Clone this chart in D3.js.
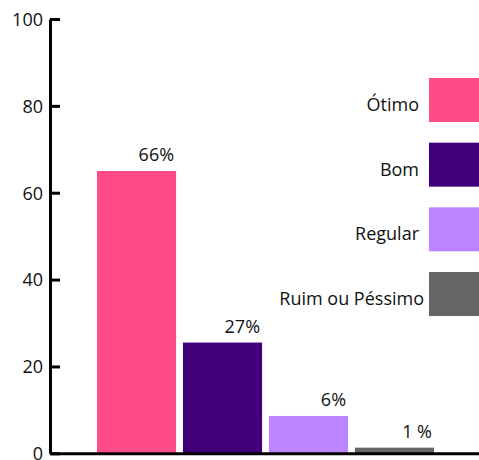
<!DOCTYPE html>
<html><head><meta charset="utf-8">
<script src="https://cdn.jsdelivr.net/npm/d3@7"></script>
<style>
html,body{margin:0;padding:0;background:#fff;}
svg{display:block;font-family:"Open Sans","Noto Sans",sans-serif;}
</style></head>
<body>
<svg id="chart" width="479" height="460"></svg>
<script>
const categories = ["Ótimo", "Bom", "Regular", "Ruim ou Péssimo"];
const values = [65, 25.5, 8.6, 1.3];
const valueLabels = ["66%", "27%", "6%", "1 %"];
const legendLabels = ["Ótimo", "Bom", "Regular", "Ruim ou Péssimo"];
const colors = ["#FF4C86", "#41007A", "#BC85FF", "#666666"];
const yTicks = [0, 20, 40, 60, 80, 100];

const svg = d3.select("#chart");
const y = d3.scaleLinear().domain([0, 100]).range([453.3, 19]);
const x = d3.scaleBand().domain(categories).range([97, 434]).paddingInner(0.08).paddingOuter(0);
const FS = 18;

// bars
svg.selectAll("rect.bar").data(values).enter().append("rect")
  .attr("class", "bar")
  .attr("x", (d, i) => x(categories[i]))
  .attr("width", x.bandwidth())
  .attr("y", d => y(d))
  .attr("height", d => y(0) - y(d))
  .attr("fill", (d, i) => colors[i]);

// value labels
svg.selectAll("text.val").data(values).enter().append("text")
  .attr("class", "val")
  .attr("x", (d, i) => x(categories[i]) + x.bandwidth() - 2)
  .attr("y", d => y(d) - 10)
  .attr("text-anchor", "end")
  .attr("font-size", FS)
  .attr("fill", "#111")
  .text((d, i) => valueLabels[i]);

// y axis
const yAxis = d3.axisLeft(y).tickValues(yTicks).tickSizeInner(-10).tickSizeOuter(0).tickPadding(8);
const gy = svg.append("g").attr("transform", "translate(50,0)").call(yAxis);
gy.select(".domain").attr("stroke", "#000").attr("stroke-width", 3);
gy.selectAll(".tick line").attr("stroke", "#000").attr("stroke-width", 3);
gy.selectAll(".tick text").attr("font-size", FS).attr("fill", "#111")
  .attr("font-family", "'Open Sans','Noto Sans',sans-serif").attr("x", -7).attr("dy", "0.35em");

// x axis baseline
const xAxis = d3.axisBottom(d3.scaleLinear().domain([0, 1]).range([0, 429])).tickValues([]).tickSizeOuter(0);
const gx = svg.append("g").attr("transform", `translate(50,${y(0)})`).call(xAxis);
gx.select(".domain").attr("stroke", "#000").attr("stroke-width", 3);

// legend
const legY = d3.scaleBand().domain(legendLabels).range([78, 316]).paddingInner(0.32).paddingOuter(0);
const leg = svg.selectAll("g.leg").data(legendLabels).enter().append("g").attr("class", "leg")
  .attr("transform", d => `translate(0,${legY(d)})`);
leg.append("rect").attr("x", 429).attr("width", 50).attr("height", legY.bandwidth())
  .attr("fill", (d, i) => colors[i]);
leg.append("text").attr("x", (d, i) => i === 3 ? 424 : 419).attr("y", legY.bandwidth() / 2 + 11)
  .attr("text-anchor", "end").attr("font-size", FS).attr("fill", "#111").text(d => d);
</script>
</body></html>
